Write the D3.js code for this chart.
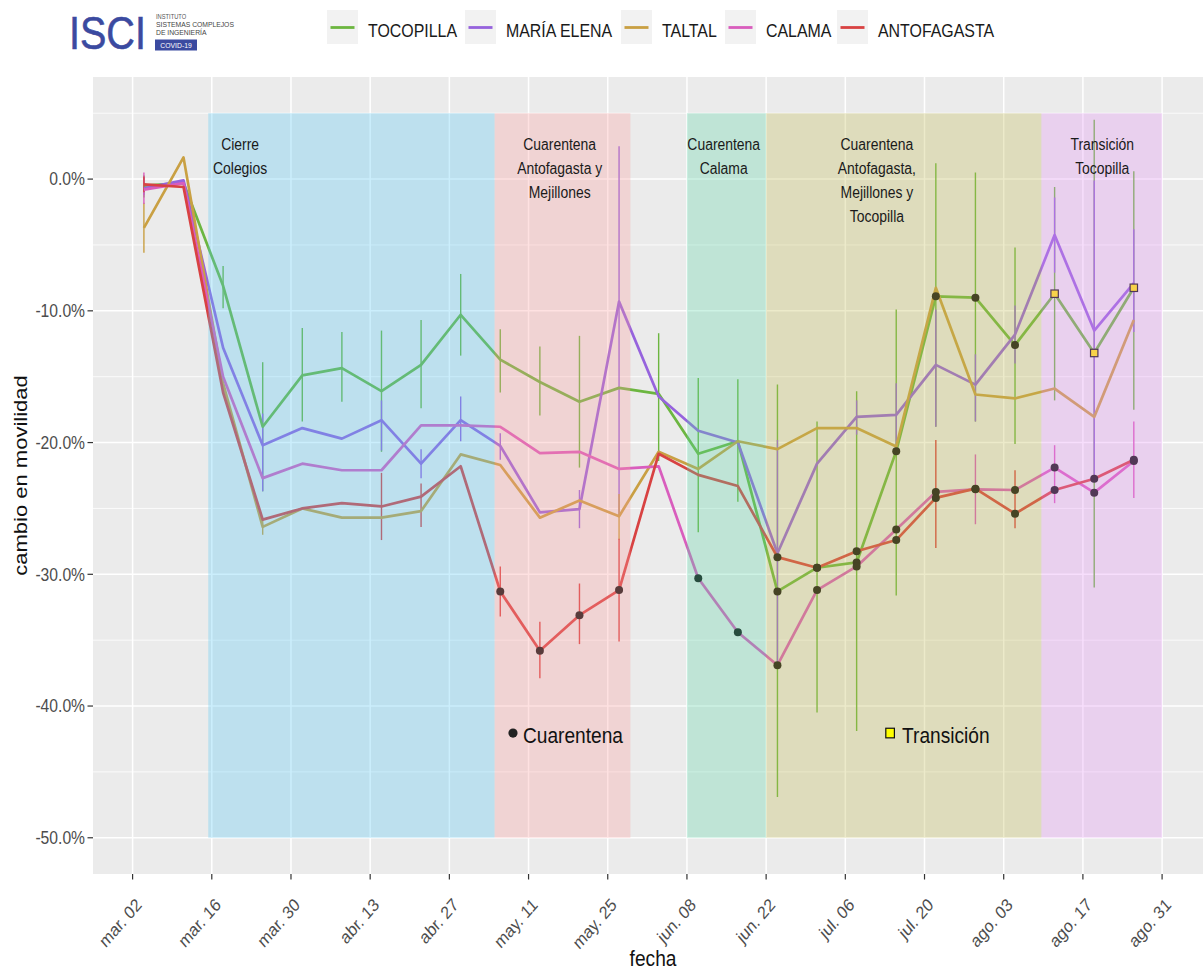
<!DOCTYPE html>
<html>
<head>
<meta charset="utf-8">
<script src="https://cdn.jsdelivr.net/npm/d3@7"></script>
<style>
body{margin:0;background:#fff}
svg{display:block}
text{font-family:"Liberation Sans",Arial,Helvetica,sans-serif}
</style>
</head>
<body>
<svg id="chart" width="1203" height="969"></svg>
<script>
// ---------------- DATA ----------------
const dates = ["2020-03-04","2020-03-11","2020-03-18","2020-03-25","2020-04-01","2020-04-08","2020-04-15","2020-04-22","2020-04-29","2020-05-06","2020-05-13","2020-05-20","2020-05-27","2020-06-03","2020-06-10","2020-06-17","2020-06-24","2020-07-01","2020-07-08","2020-07-15","2020-07-22","2020-07-29","2020-08-05","2020-08-12","2020-08-19","2020-08-26"];

const seriesNames = ["TOCOPILLA","MARÍA ELENA","TALTAL","CALAMA","ANTOFAGASTA"];

const tocopilla   = [-0.5,-0.3,-8.1,-18.8,-14.9,-14.35,-16.1,-14.1,-10.3,-13.7,-15.4,-16.9,-15.85,-16.3,-20.85,-19.9,-31.3,-29.5,-29.1,-20.65,-8.9,-9.0,-12.6,-8.7,-13.2,-8.25];
const tocopillaLo = [-1.4,null,-9.8,-23.7,-18.4,-16.9,-20.7,-17.4,-13.4,-16.2,-17.95,-21.9,null,-21.4,-26.8,-24.5,-46.9,-40.5,-41.9,-31.6,-18.8,-18.4,-20.1,-16.8,-31.0,-17.5];
const tocopillaHi = [0.3,null,-6.6,-13.9,-11.3,-11.6,-11.5,-10.7,-7.2,-11.4,-12.7,-11.9,null,-11.7,-15.1,-15.2,-15.6,-18.4,-16.1,-9.9,1.2,0.5,-5.2,-0.6,4.5,0.6];
const tocopillaMarks = [0,0,0,0,0,0,0,0,0,0,0,0,0,0,0,0,"c","c","c","c","c","c","c","t","t","t"];

const mariaElena   = [-0.7,-0.1,-12.8,-20.2,-18.9,-19.7,-18.3,-21.6,-18.3,-20.25,-25.3,-25.05,-9.3,-16.5,-19.1,-20.0,-28.4,-21.6,-18.05,-17.9,-14.1,-15.6,-11.8,-4.25,-11.5,-7.9];
const mariaElenaLo = [-1.2,null,null,-23.7,null,null,-20.6,-22.7,-19.9,-21.3,null,-26.5,-25.5,null,null,null,-37.0,null,-19.4,-20.3,-18.8,-18.4,-14.0,-7.1,-22.9,-11.6];
const mariaElenaHi = [0.2,null,null,-17.8,null,null,-16.8,-20.5,-16.5,-19.3,null,-23.6,2.5,null,null,null,-19.8,null,-16.8,-15.5,-9.9,-13.3,-9.6,-1.4,-0.1,-3.8];
const mariaElenaMarks = [0,0,0,0,0,0,0,0,0,0,0,0,0,0,0,0,0,0,0,0,0,0,0,0,0,0];

const taltal   = [-3.7,1.65,-15.5,-26.4,-25.0,-25.7,-25.7,-25.2,-20.9,-21.7,-25.7,-24.4,-25.6,-20.7,-22.0,-19.9,-20.5,-18.9,-18.9,-20.3,-8.25,-16.35,-16.65,-15.9,-18.05,-10.7];
const taltalLo = [-5.6,null,null,-27.0,null,null,null,null,null,null,null,null,-27.4,null,null,null,null,null,null,null,null,null,null,null,null,null];
const taltalHi = [-1.8,null,null,-25.8,null,null,null,null,null,null,null,null,-23.9,null,null,null,null,null,null,null,null,null,null,null,null,null];
const taltalMarks = [0,0,0,0,0,0,0,0,0,0,0,0,0,0,0,0,0,0,0,0,0,0,0,0,0,0];

const calama   = [-0.8,-0.3,-15.0,-22.7,-21.6,-22.1,-22.1,-18.7,-18.7,-18.8,-20.8,-20.7,-22.0,-21.8,-30.3,-34.4,-36.9,-31.2,-29.4,-26.6,-23.75,-23.55,-23.6,-21.9,-23.8,-21.4];
const calamaLo = [-1.9,null,null,null,null,null,null,null,null,null,null,null,null,null,null,null,null,null,null,null,null,-26.2,null,-24.6,null,-24.2];
const calamaHi = [0.5,null,null,null,null,null,null,null,null,null,null,null,null,null,null,null,null,null,null,null,null,-20.9,null,-20.2,null,-18.4];
const calamaMarks = [0,0,0,0,0,0,0,0,0,0,0,0,0,0,"c","c","c","c","c","c","c","c","c","c","c","c"];

const antofagasta   = [-0.4,-0.6,-16.2,-25.85,-25.0,-24.6,-24.85,-24.1,-21.8,-31.3,-35.8,-33.1,-31.2,-20.85,-22.45,-23.3,-28.7,-29.5,-28.25,-27.4,-24.2,-23.5,-25.4,-23.6,-22.75,-21.3];
const antofagastaLo = [-1.0,null,null,null,null,null,-27.4,-26.4,null,-33.2,-37.9,-35.3,-35.1,null,null,null,null,null,null,null,-28.0,null,-26.5,null,null,null];
const antofagastaHi = [0.2,null,null,null,null,null,-22.3,-23.1,null,-29.4,-33.6,-30.7,-27.3,null,null,null,null,null,null,null,-19.8,null,-22.1,null,null,null];
const antofagastaMarks = [0,0,0,0,0,0,0,0,0,"c","c","c","c",0,0,0,"c","c","c","c","c","c","c","c","c","c"];

// shaded periods
const periodStarts = ["2020-03-15T09:00","2020-05-05T00:00","2020-06-08T00:00","2020-06-22T00:00","2020-08-09T16:00"];
const periodEnds   = ["2020-05-05T00:00","2020-05-29T00:00","2020-06-22T00:00","2020-08-09T16:00","2020-08-31T00:00"];
const periodLabels = [["Cierre","Colegios"],["Cuarentena","Antofagasta y","Mejillones"],["Cuarentena","Calama"],["Cuarentena","Antofagasta,","Mejillones y","Tocopilla"],["Transición","Tocopilla"]];
const periodLabelDates = ["2020-03-21T00:00","2020-05-16T12:00","2020-06-14T12:00","2020-07-11T14:00","2020-08-20T10:00"];
const periodTop = 5, periodBottom = -50;

// axes
const xTickDates  = ["2020-03-02","2020-03-16","2020-03-30","2020-04-13","2020-04-27","2020-05-11","2020-05-25","2020-06-08","2020-06-22","2020-07-06","2020-07-20","2020-08-03","2020-08-17","2020-08-31"];
const xTickLabels = ["mar. 02","mar. 16","mar. 30","abr. 13","abr. 27","may. 11","may. 25","jun. 08","jun. 22","jul. 06","jul. 20","ago. 03","ago. 17","ago. 31"];
const yTicks = [0,-10,-20,-30,-40,-50];
const yTickLabels = ["0.0%","-10.0%","-20.0%","-30.0%","-40.0%","-50.0%"];
const yMinorTicks = [5,-5,-15,-25,-35,-45];

// ---------------- STYLE / LAYOUT ----------------
const seriesColors = ["#6cb640","#9663dd","#c9a043","#d95dbd","#d84242"];
const periodFills = ["rgb(82,198,245)","rgb(252,155,155)","rgb(88,212,165)","rgb(192,185,78)","rgb(228,145,245)"];
const SX = 0.87; // horizontal text compression of the original
const panel = {left:93, right:1213, top:77, bottom:874};

const parseDay = d3.utcParse("%Y-%m-%d");
const parseDT = d3.utcParse("%Y-%m-%dT%H:%M");
const pd = s => s.length > 10 ? parseDT(s) : parseDay(s);

const origin = parseDay("2020-03-02");
const x = d3.scaleUtc()
  .domain([d3.utcDay.offset(origin,-7), d3.utcDay.offset(origin,191)])
  .range([panel.left, panel.right]);
const y = d3.scaleLinear().domain([-52.75, 7.75]).range([panel.bottom, panel.top]);

const svg = d3.select("#chart");
svg.append("rect").attr("width",1203).attr("height",969).attr("fill","#fff");

function txt(g, s, tx, ty, size, opt={}) {
  const t = g.append("text")
    .attr("transform", `translate(${tx},${ty}) scale(${SX},1)` + (opt.rotate ? ` rotate(${opt.rotate})` : ""))
    .attr("font-size", size)
    .attr("fill", opt.fill || "#1a1a1a")
    .attr("text-anchor", opt.anchor || "start")
    .text(s);
  if (opt.weight) t.attr("font-weight", opt.weight);
  return t;
}

// clip
svg.append("defs").append("clipPath").attr("id","clip")
  .append("rect").attr("x",panel.left).attr("y",panel.top)
  .attr("width",panel.right-panel.left).attr("height",panel.bottom-panel.top);

const plot = svg.append("g").attr("clip-path","url(#clip)");
plot.append("rect").attr("x",panel.left).attr("y",panel.top)
  .attr("width",panel.right-panel.left).attr("height",panel.bottom-panel.top)
  .attr("fill","#ebebeb");

// grid
plot.selectAll(".gminor").data(yMinorTicks).join("line")
  .attr("x1",panel.left).attr("x2",panel.right)
  .attr("y1",d=>y(d)).attr("y2",d=>y(d))
  .attr("stroke","#fff").attr("stroke-width",0.8);
plot.selectAll(".gmajor").data(yTicks).join("line")
  .attr("x1",panel.left).attr("x2",panel.right)
  .attr("y1",d=>y(d)).attr("y2",d=>y(d))
  .attr("stroke","#fff").attr("stroke-width",1.5);
plot.selectAll(".gx").data(xTickDates).join("line")
  .attr("x1",d=>x(pd(d))).attr("x2",d=>x(pd(d)))
  .attr("y1",panel.top).attr("y2",panel.bottom)
  .attr("stroke","#fff").attr("stroke-width",1.5);

// series
const seriesData = [
  {values:tocopilla, lo:tocopillaLo, hi:tocopillaHi, marks:tocopillaMarks},
  {values:mariaElena, lo:mariaElenaLo, hi:mariaElenaHi, marks:mariaElenaMarks},
  {values:taltal, lo:taltalLo, hi:taltalHi, marks:taltalMarks},
  {values:calama, lo:calamaLo, hi:calamaHi, marks:calamaMarks},
  {values:antofagasta, lo:antofagastaLo, hi:antofagastaHi, marks:antofagastaMarks}
].map((s,i) => ({...s, name:seriesNames[i], color:seriesColors[i],
   pts: dates.map((d,k)=>({date:pd(d), v:s.values[k], lo:s.lo[k], hi:s.hi[k], m:s.marks[k]}))}));

const line = d3.line().x(d=>x(d.date)).y(d=>y(d.v));

seriesData.forEach(s => {
  plot.append("g").selectAll("line").data(s.pts.filter(p=>p.lo!==null && p.hi!==null)).join("line")
    .attr("x1",p=>x(p.date)).attr("x2",p=>x(p.date))
    .attr("y1",p=>y(p.lo)).attr("y2",p=>y(p.hi))
    .attr("stroke",s.color).attr("stroke-width",1.4);
});
seriesData.forEach(s => {
  plot.append("path").datum(s.pts).attr("d",line)
    .attr("fill","none").attr("stroke",s.color).attr("stroke-width",2.7)
    .attr("stroke-linejoin","round");
});
seriesData.forEach(s => {
  plot.append("g").selectAll("circle").data(s.pts.filter(p=>p.m==="c")).join("circle")
    .attr("cx",p=>x(p.date)).attr("cy",p=>y(p.v)).attr("r",4).attr("fill","#121212");
  plot.append("g").selectAll("rect").data(s.pts.filter(p=>p.m==="t")).join("rect")
    .attr("x",p=>x(p.date)-3.7).attr("y",p=>y(p.v)-3.7).attr("width",7.4).attr("height",7.4)
    .attr("fill","#ffee00").attr("stroke","#111").attr("stroke-width",1.2);
});

// period overlays
plot.selectAll(".period").data(periodStarts).join("rect")
  .attr("x",(d,i)=>x(pd(d)))
  .attr("width",(d,i)=>x(pd(periodEnds[i]))-x(pd(d)))
  .attr("y",y(periodTop)).attr("height",y(periodBottom)-y(periodTop))
  .attr("fill",(d,i)=>periodFills[i]).attr("fill-opacity",0.3);

// period labels
const lab = svg.append("g");
periodLabels.forEach((lines,i) => {
  const cx = x(pd(periodLabelDates[i]));
  lines.forEach((s,j) => txt(lab, s, cx, 150 + j*24, 16, {anchor:"middle", fill:"#1a1a1a"}));
});

// in-plot key annotations
const ann = svg.append("g");
const qx = x(pd("2020-05-08T06:00")), qy = y(-42.05);
ann.append("circle").attr("cx",qx).attr("cy",qy).attr("r",4.6).attr("fill","#222");
txt(ann, "Cuarentena", qx+10, qy+10, 22, {fill:"#111"});
const tx0 = x(pd("2020-07-13T22:00")), ty0 = y(-42.05);
ann.append("rect").attr("x",tx0-4.3).attr("y",ty0-4.8).attr("width",8.6).attr("height",9.6)
  .attr("fill","#ffff00").attr("stroke","#111").attr("stroke-width",1.2);
txt(ann, "Transición", tx0+12, ty0+10, 22, {fill:"#111"});

// axes
const ax = svg.append("g");
yTicks.forEach((v,i) => {
  ax.append("line").attr("x1",panel.left-5.5).attr("x2",panel.left).attr("y1",y(v)).attr("y2",y(v))
    .attr("stroke","#333").attr("stroke-width",1.2);
  txt(ax, yTickLabels[i], panel.left-8, y(v)+6.3, 18, {anchor:"end", fill:"#4d4d4d"});
});
xTickDates.forEach((d,i) => {
  const px = x(pd(d));
  ax.append("line").attr("x1",px).attr("x2",px).attr("y1",panel.bottom).attr("y2",panel.bottom+5.5)
    .attr("stroke","#333").attr("stroke-width",1.2);
  txt(ax, xTickLabels[i], px+10, 906, 18, {anchor:"end", fill:"#4d4d4d", rotate:-45});
});
txt(ax, "fecha", 653, 966, 22, {anchor:"middle", fill:"#111"});
txt(ax, "cambio en movilidad", 27, (panel.top+panel.bottom)/2, 22, {anchor:"middle", fill:"#111", rotate:-90});

// legend
const legendKeyX = [327,465,621,725,837];
const leg = svg.append("g");
seriesNames.forEach((n,i) => {
  const kx = legendKeyX[i];
  leg.append("rect").attr("x",kx).attr("y",10).attr("width",31).attr("height",34).attr("fill","#f2f2f2");
  leg.append("line").attr("x1",kx+3.5).attr("x2",kx+27.5).attr("y1",27.5).attr("y2",27.5)
    .attr("stroke",seriesColors[i]).attr("stroke-width",2.8);
  txt(leg, n, kx+41, 36.5, 18.3, {fill:"#1a1a1a"});
});

// logo
const logo = svg.append("g");
logo.append("text").attr("transform",`translate(69,48.5) scale(0.86,1)`)
  .attr("font-size",46).attr("fill","#3b4aa0").attr("stroke","#3b4aa0").attr("stroke-width",0.6).text("ISCI");
logo.append("text").attr("transform","translate(156,19) scale(0.87,1)").attr("font-size",6.6).attr("fill","#555").text("INSTITUTO");
logo.append("text").attr("transform","translate(156,27) scale(0.87,1)").attr("font-size",7.8).attr("fill","#444").text("SISTEMAS COMPLEJOS");
logo.append("text").attr("transform","translate(156,35) scale(0.87,1)").attr("font-size",7.8).attr("fill","#444").text("DE INGENIERÍA");
logo.append("rect").attr("x",155).attr("y",39.5).attr("width",42).attr("height",11).attr("fill","#3b4aa0");
logo.append("text").attr("transform","translate(176,48) scale(0.9,1)").attr("font-size",7.6).attr("fill","#fff").attr("text-anchor","middle").text("COVID-19");
</script>
</body>
</html>
